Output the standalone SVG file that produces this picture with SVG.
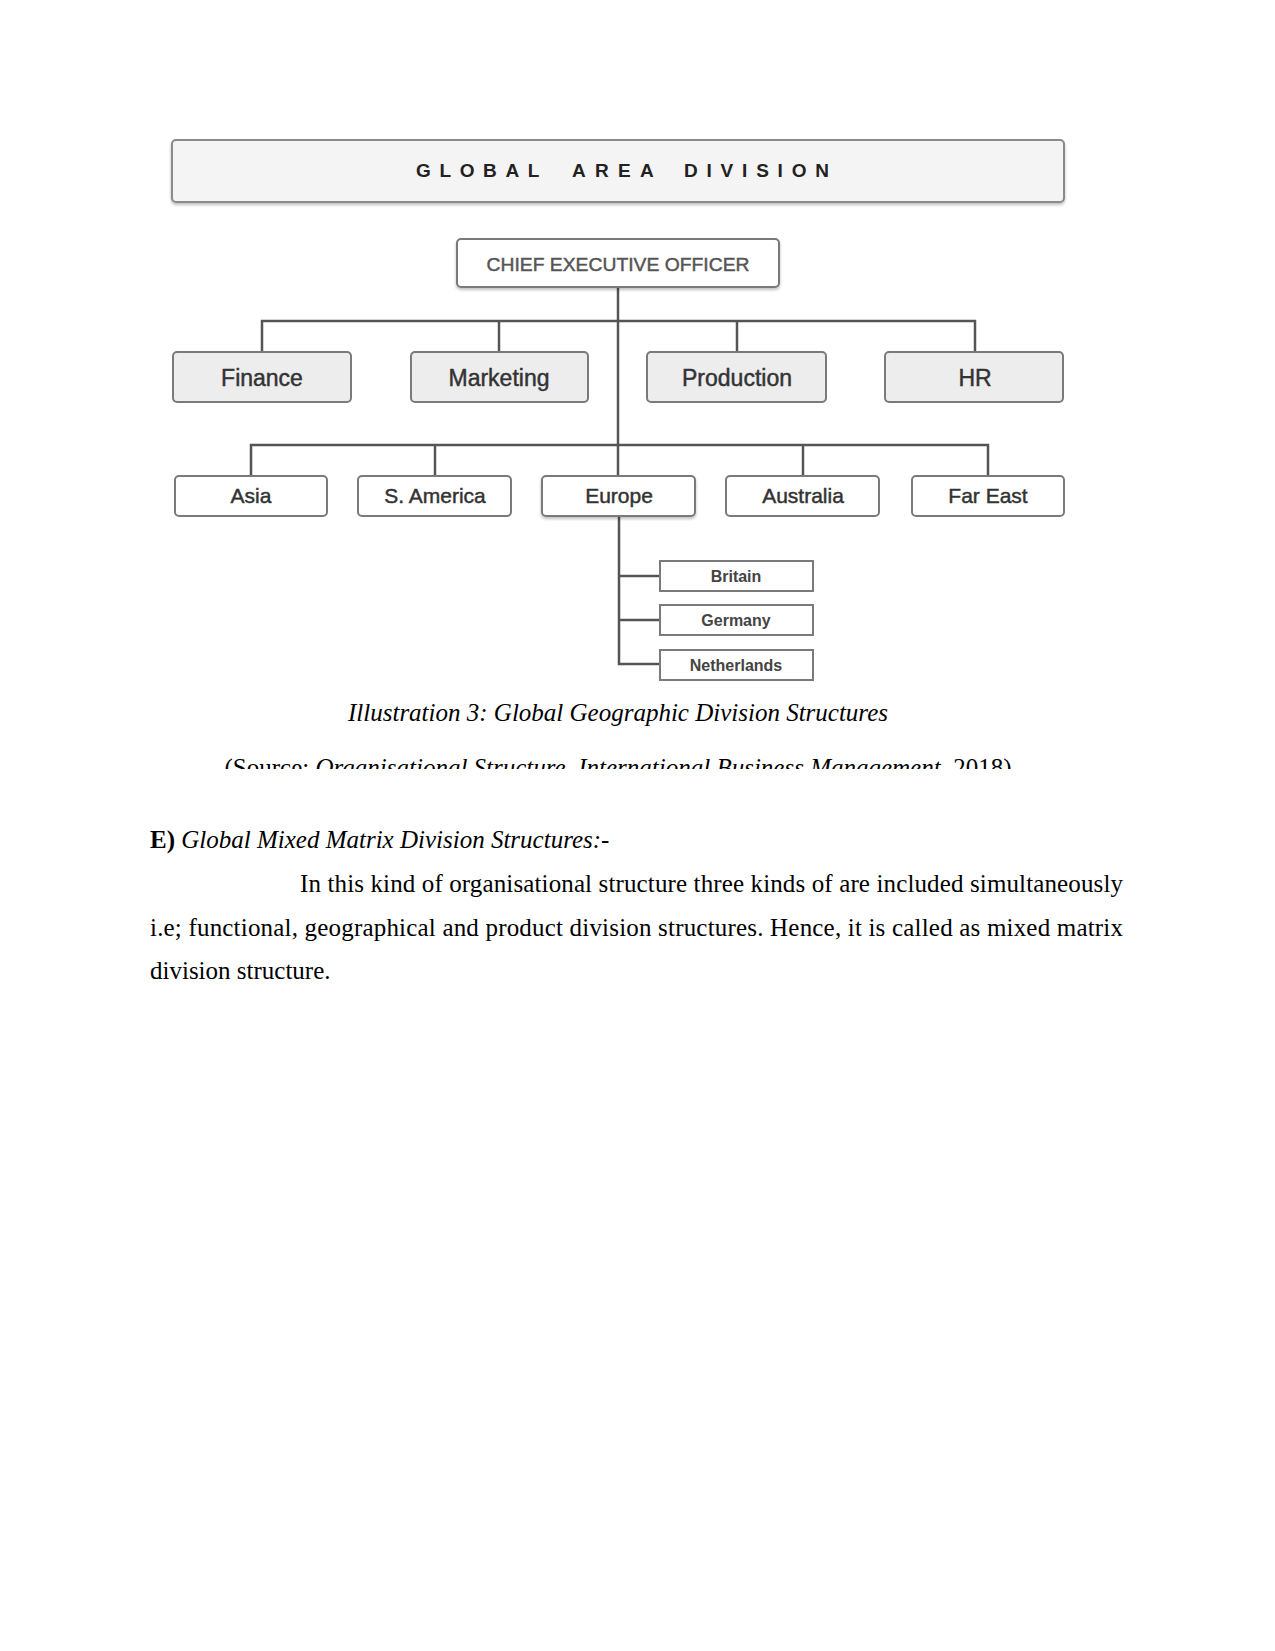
<svg xmlns="http://www.w3.org/2000/svg" width="1275" height="1651" viewBox="0 0 1275 1651">
<defs>
<style>
.box{stroke:#7a7a7a;stroke-width:2}
.wf{fill:#ffffff}
.gf{fill:#ededed}
.lbl{font-family:"Liberation Sans",Arial,sans-serif;fill:#333;stroke:#333;stroke-width:0.45;text-anchor:middle}
.sub{font-family:"Liberation Sans",Arial,sans-serif;fill:#444;text-anchor:middle;font-weight:bold;font-size:16px}
.con{stroke:#555;stroke-width:2.5;fill:none}
.serif{font-family:"Liberation Serif","Times New Roman",serif;font-size:25px;fill:#000}
</style>
<filter id="sh" x="-10%" y="-10%" width="120%" height="140%">
<feDropShadow dx="0" dy="2" stdDeviation="1.5" flood-color="#000" flood-opacity="0.25"/>
</filter>
<clipPath id="clipSrc"><rect x="0" y="740" width="1275" height="29"/></clipPath>
</defs>
<rect width="1275" height="1651" fill="#ffffff"/>

<g id="title">
<rect x="172" y="140" width="892" height="62" rx="4" fill="#f4f4f4" stroke="#8a8a8a" stroke-width="2" filter="url(#sh)"/>
<text font-family="Liberation Sans,Arial,sans-serif" font-weight="bold" font-size="19" fill="#222" y="177">
<tspan x="416" textLength="123" lengthAdjust="spacing">GLOBAL</tspan>
<tspan x="572" textLength="81" lengthAdjust="spacing">AREA</tspan>
<tspan x="684" textLength="145" lengthAdjust="spacing">DIVISION</tspan>
</text>
</g>

<g id="connectors">
<path class="con" d="M618 287 V476"/>
<path class="con" d="M262 352 V321 H975 V352"/>
<path class="con" d="M499 321 V352"/>
<path class="con" d="M737 321 V352"/>
<path class="con" d="M251 476 V445 H988 V476"/>
<path class="con" d="M435 445 V476"/>
<path class="con" d="M803 445 V476"/>
<path class="con" d="M619 516 V664 H660"/>
<path class="con" d="M619 576 H660"/>
<path class="con" d="M619 620 H660"/>
</g>

<g id="ceo">
<rect class="box wf" x="457" y="239" width="322" height="48" rx="4" filter="url(#sh)"/>
<text class="lbl" x="618" y="271" font-size="19" fill="#555" style="fill:#555;stroke:#555" textLength="263" lengthAdjust="spacingAndGlyphs">CHIEF EXECUTIVE OFFICER</text>
</g>

<g id="finance"><rect class="box gf" x="173" y="352" width="178" height="50" rx="4"/><text class="lbl" x="262" y="386" font-size="23">Finance</text></g>
<g id="marketing"><rect class="box gf" x="411" y="352" width="177" height="50" rx="4"/><text class="lbl" x="499" y="386" font-size="23">Marketing</text></g>
<g id="production"><rect class="box gf" x="647" y="352" width="179" height="50" rx="4"/><text class="lbl" x="737" y="386" font-size="23">Production</text></g>
<g id="hr"><rect class="box gf" x="885" y="352" width="178" height="50" rx="4"/><text class="lbl" x="975" y="386" font-size="23">HR</text></g>

<g id="asia"><rect class="box wf" x="175" y="476" width="152" height="40" rx="4"/><text class="lbl" x="251" y="503" font-size="21">Asia</text></g>
<g id="samerica"><rect class="box wf" x="358" y="476" width="153" height="40" rx="4"/><text class="lbl" x="435" y="503" font-size="21">S. America</text></g>
<g id="europe"><rect class="box wf" x="542" y="476" width="153" height="40" rx="4" filter="url(#sh)"/><text class="lbl" x="619" y="503" font-size="21">Europe</text></g>
<g id="australia"><rect class="box wf" x="726" y="476" width="153" height="40" rx="4"/><text class="lbl" x="803" y="503" font-size="21">Australia</text></g>
<g id="fareast"><rect class="box wf" x="912" y="476" width="152" height="40" rx="4"/><text class="lbl" x="988" y="503" font-size="21">Far East</text></g>

<g id="britain"><rect class="box wf" x="660" y="561" width="153" height="30"/><text class="sub" x="736" y="582">Britain</text></g>
<g id="germany"><rect class="box wf" x="660" y="605" width="153" height="30"/><text class="sub" x="736" y="626">Germany</text></g>
<g id="netherlands"><rect class="box wf" x="660" y="650" width="153" height="30"/><text class="sub" x="736" y="671">Netherlands</text></g>

<g id="caption">
<text class="serif" x="618" y="721" text-anchor="middle" font-style="italic">Illustration 3: Global Geographic Division Structures</text>
<text class="serif" x="618" y="776" text-anchor="middle" clip-path="url(#clipSrc)">(Source: <tspan font-style="italic">Organisational Structure, International Business Management,</tspan> 2018)</text>
</g>

<g id="body">
<text class="serif" x="150" y="848"><tspan font-weight="bold">E)</tspan> <tspan font-style="italic">Global Mixed Matrix Division Structures:-</tspan></text>
<text class="serif" x="300" y="892" textLength="823" lengthAdjust="spacing">In this kind of organisational structure three kinds of are included simultaneously</text>
<text class="serif" x="150" y="936" textLength="973" lengthAdjust="spacing">i.e; functional, geographical and product division structures. Hence, it is called as mixed matrix</text>
<text class="serif" x="150" y="979">division structure.</text>
</g>
</svg>
